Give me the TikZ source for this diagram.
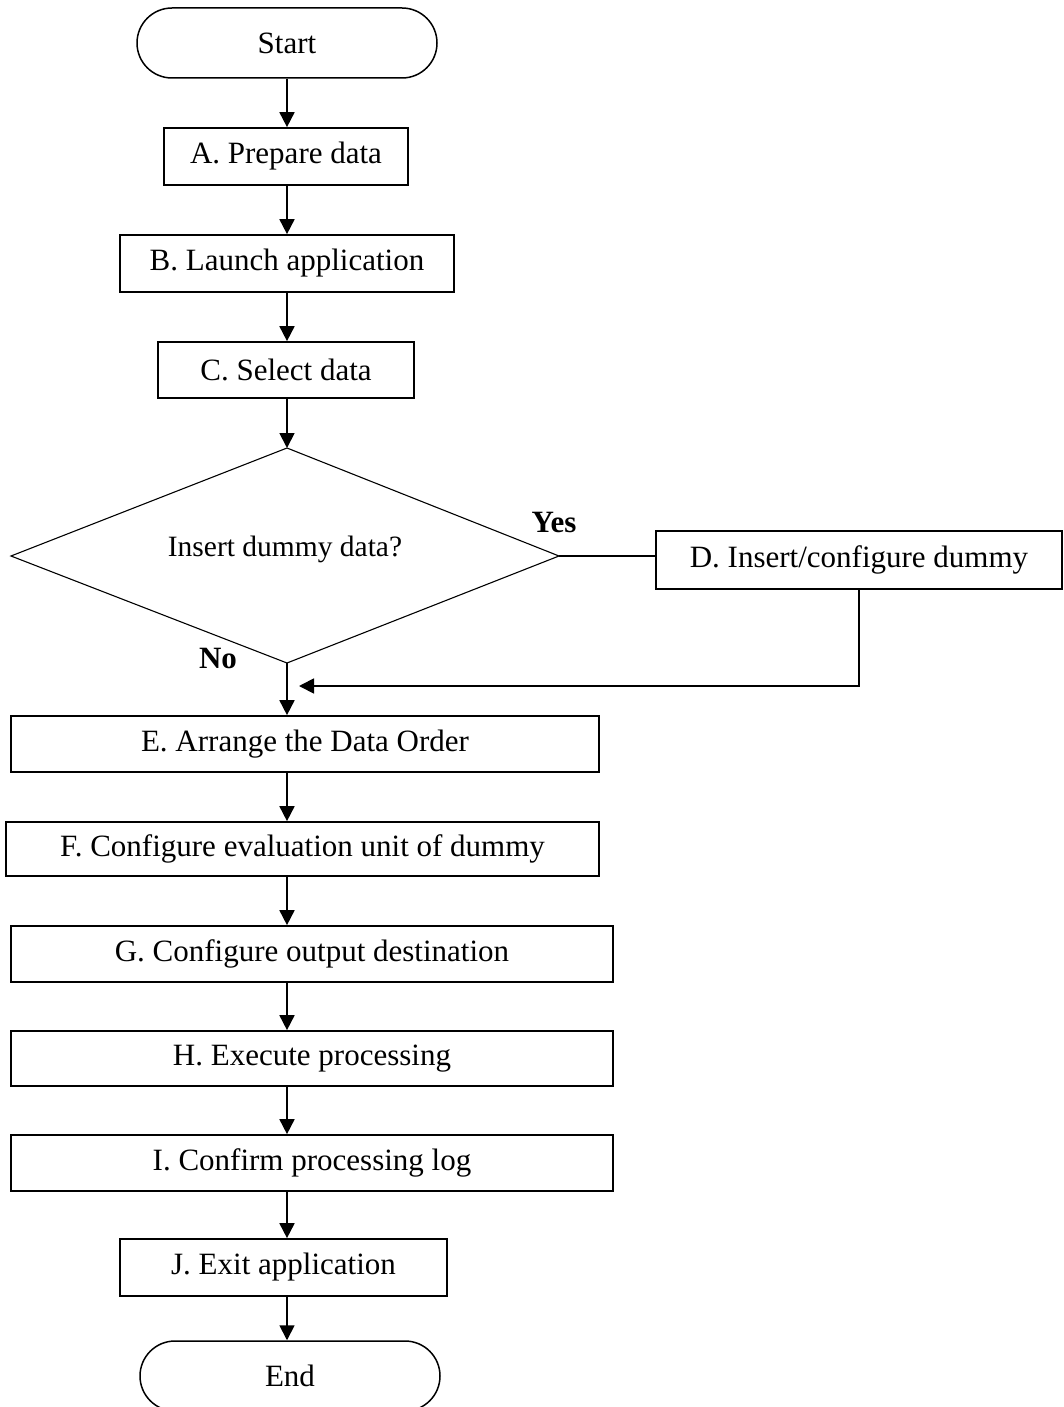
\documentclass[tikz,border=0pt]{standalone}
\usepackage{fontspec}
\setmainfont{Liberation Serif}
\usetikzlibrary{arrows.meta,shapes.misc}
\begin{document}
\begin{tikzpicture}[x=1pt,y=-1pt,
  every node/.style={font=\fontsize{31}{36}\selectfont},
  stepbox/.style={draw,line width=1.7pt,inner sep=0pt,align=center},
  term/.style={draw,line width=1.5pt,rounded rectangle,inner sep=0pt,
    minimum width=300pt,minimum height=70pt},
  arr/.style={line width=1.8pt,-{Triangle[length=15pt,width=15pt]}},
  link/.style={line width=1.6pt},
  lbl/.style={font=\fontsize{31}{36}\selectfont\bfseries,inner sep=0pt},
]
\clip (0,0) rectangle (1064,1407);

% terminals and process steps
\node[term] (start) at (287,43) {Start};
\node[stepbox,minimum width=244pt,minimum height=57pt] (A) at (286,156.5) {A. Prepare data};
\node[stepbox,minimum width=334pt,minimum height=57pt] (B) at (287,263.5) {B. Launch application};
\node[stepbox,minimum width=256pt,minimum height=56pt] (C) at (286,370) {C. Select data};

% decision
\coordinate (dtop) at (287,448);
\coordinate (dleft) at (11,556);
\coordinate (dright) at (559,556);
\coordinate (dbot) at (287,663);
\draw[line width=1.1pt,line join=miter] (dtop) -- (dright) -- (dbot) -- (dleft) -- cycle;
\node[font=\fontsize{29.5}{34}\selectfont] (q) at (285,549) {Insert dummy data?};

\node[stepbox,minimum width=406pt,minimum height=58pt] (D) at (859,560) {D. Insert/configure dummy};
\node[stepbox,minimum width=588pt,minimum height=56pt] (E) at (305,744) {E. Arrange the Data Order};
\node[stepbox,minimum width=593pt,minimum height=54pt] (F) at (302.5,849) {F. Configure evaluation unit of dummy};
\node[stepbox,minimum width=602pt,minimum height=56pt] (G) at (312,954) {G. Configure output destination};
\node[stepbox,minimum width=602pt,minimum height=55pt] (H) at (312,1058.5) {H. Execute processing};
\node[stepbox,minimum width=602pt,minimum height=56pt] (I) at (312,1163) {I. Confirm processing log};
\node[stepbox,minimum width=327pt,minimum height=57pt] (J) at (283.5,1267.5) {J. Exit application};
\node[term] (end) at (290,1376) {End};

% branch labels
\node[lbl] (yes) at (554,522) {Yes};
\node[lbl] (no) at (218,658) {No};

% connectors
\draw[arr] (start.south -| start) -- (A.north -| start);
\draw[arr] (A.south -| start) -- (B.north -| start);
\draw[arr] (B.south -| start) -- (C.north -| start);
\draw[arr] (C.south -| start) -- (dtop);
\draw[link] (dright) -- (D.west |- dright);
\draw[arr] (dbot) -- (E.north -| dbot);
\coordinate (merge) at (299,686);
\draw[arr] (D.south) |- (merge);
\draw[arr] (E.south -| start) -- (F.north -| start);
\draw[arr] (F.south -| start) -- (G.north -| start);
\draw[arr] (G.south -| start) -- (H.north -| start);
\draw[arr] (H.south -| start) -- (I.north -| start);
\draw[arr] (I.south -| start) -- (J.north -| start);
\draw[arr] (J.south -| start) -- (end.north -| start);
\end{tikzpicture}
\end{document}
